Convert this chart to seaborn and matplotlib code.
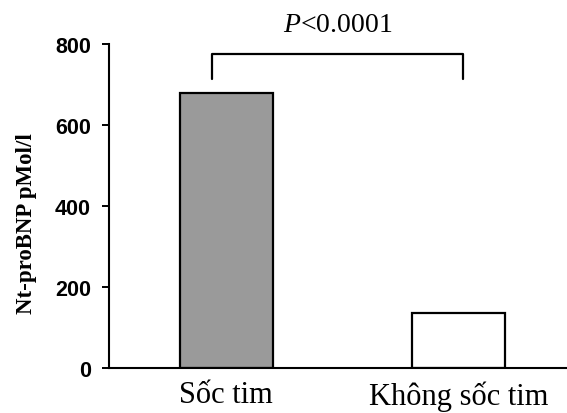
import matplotlib
matplotlib.use("Agg")
import matplotlib.pyplot as plt
import seaborn as sns
import pandas as pd

# values
groups = ["Sốc tim", "Không sốc tim"]
ntprobnp = [679, 136]
bar_colors = ["#9a9a9a", "#ffffff"]
yticks = [0, 200, 400, 600, 800]
p_label = "$P$<0.0001"

sns.set_style("ticks")
plt.rcParams["mathtext.fontset"] = "custom"
plt.rcParams["mathtext.it"] = "Liberation Serif:italic"
plt.rcParams["mathtext.rm"] = "Liberation Serif"
plt.rcParams["text.color"] = "black"
plt.rcParams["axes.labelcolor"] = "black"
plt.rcParams["xtick.color"] = "black"
plt.rcParams["ytick.color"] = "black"
plt.rcParams["axes.edgecolor"] = "black"

df = pd.DataFrame({"group": groups, "value": ntprobnp})

fig = plt.figure(figsize=(5.67, 4.14), dpi=100)
ax = fig.add_axes([0.192, 0.109, 0.808, 0.782])

sns.barplot(data=df, x="group", y="value", hue="group", palette=bar_colors,
            width=0.4, edgecolor="black", linewidth=1.6, legend=False, ax=ax)

ax.set_ylim(0, 800)
ax.set_xlim(-0.506, 1.468)
ax.set_yticks(yticks)
ax.set_yticklabels([str(t) for t in yticks], fontsize=15.5, fontweight="bold",
                   family=["Liberation Sans", "DejaVu Sans"])
ax.set_xticks(range(len(groups)))
ax.set_xticklabels(groups, fontsize=22, family=["Liberation Serif", "DejaVu Serif"])
ax.tick_params(axis="x", length=0, pad=9)
ax.tick_params(axis="y", length=5, width=1.4, pad=8)
ax.set_xlabel("")
ax.set_ylabel("Nt-proBNP pMol/l", fontsize=16.5, fontweight="bold",
              family=["Liberation Serif", "DejaVu Serif"])
ax.yaxis.set_label_coords(-0.157, 0.448)

sns.despine(ax=ax)
for side in ["left", "bottom"]:
    ax.spines[side].set_linewidth(1.5)

# significance bracket
ax.plot([-0.0625, -0.0625, 1.019, 1.019], [714, 775, 775, 714],
        color="black", lw=1.6, clip_on=False)
ax.text(0.48, 849, p_label, ha="center", va="center", fontsize=20,
        family=["Liberation Serif", "DejaVu Serif"], clip_on=False)

fig.savefig("out.png", dpi=100)
